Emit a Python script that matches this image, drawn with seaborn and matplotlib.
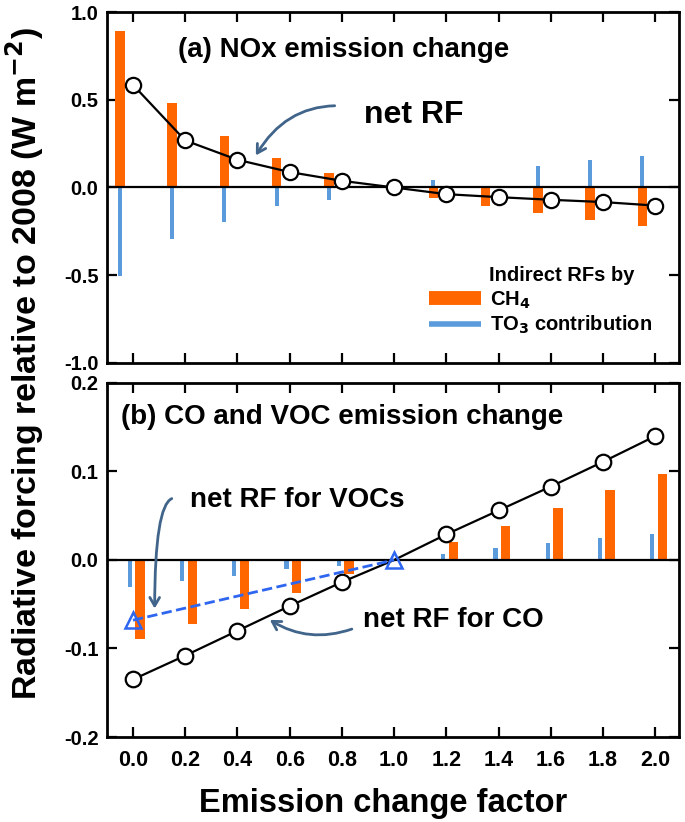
import numpy as np
import pandas as pd
import matplotlib
matplotlib.use("Agg")
import matplotlib.pyplot as plt
import seaborn as sns
from matplotlib.lines import Line2D

# emission change factor (x axis)
factor = [0.0, 0.2, 0.4, 0.6, 0.8, 1.0, 1.2, 1.4, 1.6, 1.8, 2.0]

# (a) NOx emission change
nox_net = [0.585, 0.268, 0.158, 0.088, 0.038, 0.0, -0.038, -0.055, -0.070, -0.083, -0.103]
nox_ch4 = [0.889, 0.481, 0.295, 0.167, 0.080, 0.0, -0.060, -0.108, -0.146, -0.184, -0.218]
nox_to3 = [-0.503, -0.294, -0.194, -0.108, -0.070, 0.0, 0.044, 0.0, 0.124, 0.154, 0.182]

# (b) CO and VOC emission change
co_net = [-0.135, -0.108, -0.080, -0.052, -0.025, 0.0, 0.029, 0.056, 0.083, 0.111, 0.140]
co_ch4 = [-0.0895, -0.072, -0.055, -0.037, -0.016, 0.0, 0.020, 0.0385, 0.0585, 0.079, 0.0974]
co_to3 = [-0.030, -0.024, -0.018, -0.0106, -0.0065, 0.0, 0.0068, 0.013, 0.019, 0.025, 0.0295]
voc_factor = [0.0, 1.0]
voc_net = [-0.068, 0.0]

xticks = [0.0, 0.2, 0.4, 0.6, 0.8, 1.0, 1.2, 1.4, 1.6, 1.8, 2.0]
yticks_a = [-1.0, -0.5, 0.0, 0.5, 1.0]
yticks_b = [-0.2, -0.1, 0.0, 0.1, 0.2]

ORANGE = "#ff6600"
BLUE = "#5b9bdc"
ARROW = "#41648a"
TRI = "#2f66f0"

sns.set_style("ticks")
plt.rcParams["font.family"] = ["Liberation Sans", "DejaVu Sans"]
plt.rcParams["font.weight"] = "bold"
plt.rcParams["axes.unicode_minus"] = False
for key in ("text.color", "axes.labelcolor", "xtick.color", "ytick.color", "axes.edgecolor"):
    plt.rcParams[key] = "black"

fig = plt.figure(figsize=(6.85, 8.22), dpi=100)
ax1 = fig.add_axes([0.156, 0.5584, 0.835, 0.427])
ax2 = fig.add_axes([0.156, 0.1034, 0.835, 0.4307])

fx = np.array(factor)

# ---- panel (a)
sns.barplot(x=fx - 0.05, y=nox_ch4, native_scale=True, width=0.18, color=ORANGE,
            saturation=1, linewidth=0, errorbar=None, ax=ax1, zorder=2)
sns.barplot(x=fx - 0.05, y=nox_to3, native_scale=True, width=0.08, color=BLUE,
            saturation=1, linewidth=0, errorbar=None, ax=ax1, zorder=2)
ax1.axhline(0, color="black", lw=1.6, zorder=3)
sns.lineplot(x=factor, y=nox_net, color="black", lw=1.6, marker="o", markersize=11,
             markerfacecolor="white", markeredgecolor="black", markeredgewidth=1.6,
             ax=ax1, zorder=5)

ax1.text(0.171, 0.785, "(a) NOx emission change", fontsize=20, fontweight="bold", va="center")
ax1.text(0.886, 0.414, "net RF", fontsize=23, fontweight="bold", va="center")
ax1.annotate("", xy=(0.465, 0.169), xytext=(0.783, 0.466),
             arrowprops=dict(arrowstyle="->,head_length=0.6,head_width=0.35", color=ARROW, lw=2,
                             connectionstyle="angle3,angleA=0,angleB=60"))

ax1.text(1.364, -0.50, "Indirect RFs by", fontsize=14.5, fontweight="bold", va="center")
handles = [Line2D([], [], color=ORANGE, lw=10, solid_capstyle="butt"),
           Line2D([], [], color=BLUE, lw=4, solid_capstyle="butt")]
ax1.legend(handles, ["CH$_\\mathbf{4}$", "TO$_\\mathbf{3}$ contribution"], loc="upper left",
           bbox_to_anchor=(0.563, 0.21), frameon=False, handlelength=2.6, handletextpad=0.45,
           labelspacing=0.15, borderaxespad=0, borderpad=0, prop=dict(size=14.5, weight="bold"))

ax1.set_ylim(-1.0, 1.0)
ax1.set_yticks(yticks_a)
ax1.set_yticklabels([f"{v:.1f}" for v in yticks_a])

# ---- panel (b)
sns.barplot(x=fx + 0.027, y=co_ch4, native_scale=True, width=0.18, color=ORANGE,
            saturation=1, linewidth=0, errorbar=None, ax=ax2, zorder=2)
sns.barplot(x=fx - 0.012, y=co_to3, native_scale=True, width=0.08, color=BLUE,
            saturation=1, linewidth=0, errorbar=None, ax=ax2, zorder=2)
ax2.axhline(0, color="black", lw=1.6, zorder=3)
sns.lineplot(x=factor, y=co_net, color="black", lw=1.6, ax=ax2, zorder=4)
co_df = pd.DataFrame({"factor": factor, "net": co_net})
co_df = co_df[co_df["factor"] != 1.0]
sns.scatterplot(data=co_df, x="factor", y="net", s=125, facecolor="white",
                edgecolor="black", linewidth=1.6, ax=ax2, zorder=5)
sns.lineplot(x=voc_factor, y=voc_net, color=TRI, lw=2, linestyle="--", ax=ax2, zorder=5)
ax2.plot(voc_factor, voc_net, linestyle="none", marker="^", markersize=12,
         markerfacecolor="none", markeredgecolor=TRI, markeredgewidth=1.8, zorder=6)

ax2.text(-0.044, 0.161, "(b) CO and VOC emission change", fontsize=20, fontweight="bold", va="center")
ax2.text(0.217, 0.068, "net RF for VOCs", fontsize=20, fontweight="bold", va="center")
ax2.text(0.879, -0.068, "net RF for CO", fontsize=20, fontweight="bold", va="center")
ax2.annotate("", xy=(0.083, -0.058), xytext=(0.159, 0.070),
             arrowprops=dict(arrowstyle="->,head_length=0.6,head_width=0.35", color=ARROW, lw=2,
                             connectionstyle="angle3,angleA=180,angleB=90"))
ax2.annotate("", xy=(0.515, -0.066), xytext=(0.848, -0.077),
             arrowprops=dict(arrowstyle="->,head_length=0.6,head_width=0.35", color=ARROW, lw=2,
                             connectionstyle="arc3,rad=-0.25"))

ax2.set_ylim(-0.2, 0.2)
ax2.set_yticks(yticks_b)
ax2.set_yticklabels([f"{v:.1f}" for v in yticks_b])

for ax in (ax1, ax2):
    ax.set_xlim(-0.1, 2.09)
    ax.set_xticks(xticks)
    ax.set_xticklabels([f"{v:.1f}" for v in xticks])
    ax.set_xlabel("")
    ax.set_ylabel("")
    ax.tick_params(direction="in", top=True, right=True, length=7, width=1.6)
    ax.tick_params(axis="y", labelsize=14.5, pad=6)
    ax.tick_params(axis="x", labelsize=15.5, pad=9)
    for s in ax.spines.values():
        s.set_linewidth(2)
        s.set_visible(True)
    for lab in ax.get_xticklabels() + ax.get_yticklabels():
        lab.set_fontweight("bold")
ax1.tick_params(axis="x", labelbottom=False)

fig.text(0.559, 0.023, "Emission change factor", fontsize=23.5, fontweight="bold",
         ha="center", va="center")
fig.text(0.036, 0.558, "Radiative forcing relative to 2008 (W m$^{\\mathbf{-2}}$)", fontsize=24.5,
         fontweight="bold", rotation=90, ha="center", va="center")

fig.savefig("out.png", dpi=100)
